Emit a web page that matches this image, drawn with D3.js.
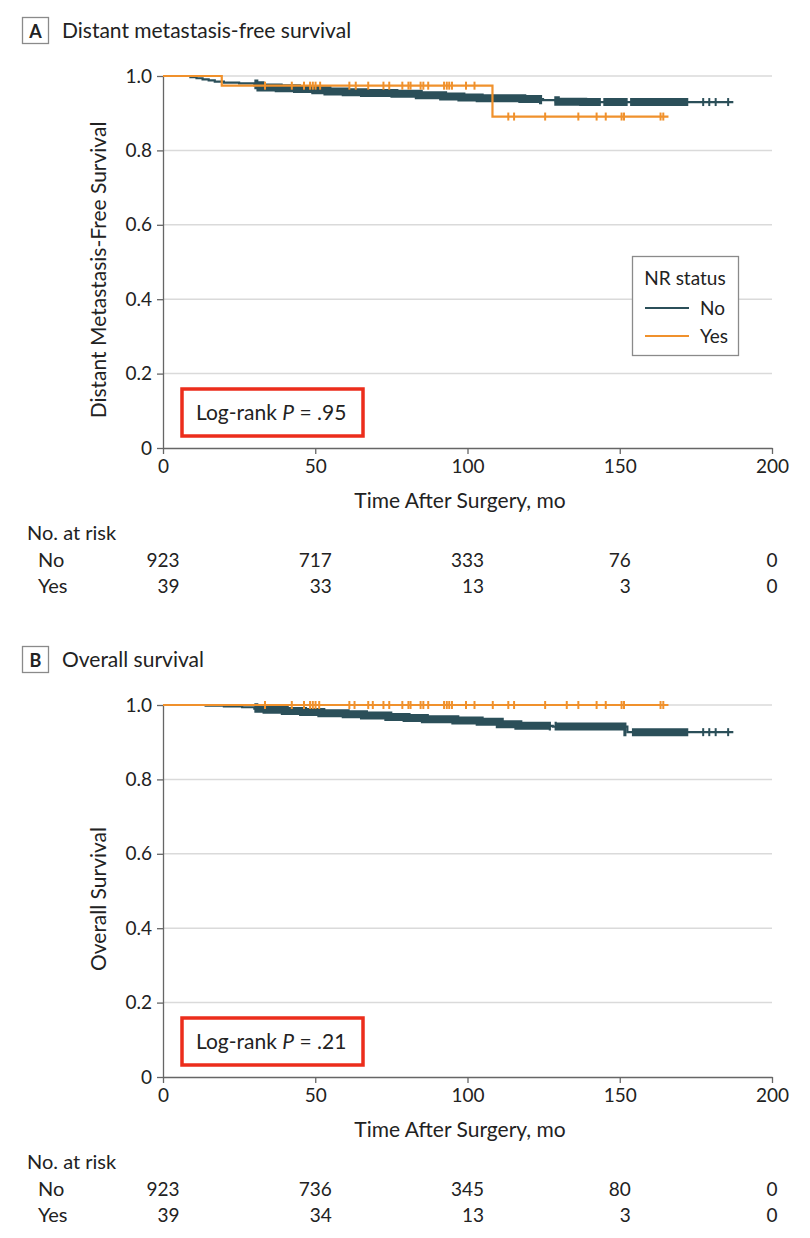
<!DOCTYPE html>
<html><head><meta charset="utf-8">
<script src="https://cdn.jsdelivr.net/npm/d3@7"></script>
<style>
body{margin:0;background:#fff}
svg{display:block}
text{font-family:Lato,"Open Sans",sans-serif;fill:#222}
</style>
</head><body>
<svg id="c" width="810" height="1238"></svg>
<script>
// ---------- data ----------
const timeTicks = [0, 50, 100, 150, 200];
const survTicks = [0, 0.2, 0.4, 0.6, 0.8, 1.0];
const groupNames = ["No", "Yes"];
const legendTitle = "NR status";

// Panel A: distant metastasis-free survival
const dmfsNoSteps = [[0,1],[9,0.997],[11,0.994],[13,0.991],[15,0.988],[17,0.985],[20,0.982],[25,0.980],[30,0.975],[32,0.969],[38,0.967],[44,0.965],[50,0.962],[54,0.958],[60,0.956],[66,0.954],[76,0.952],[84,0.948],[92,0.945],[98,0.942],[104,0.940],[118,0.938],[124.8,0.935],[129,0.931],[138,0.930]];
const dmfsNoEnd = 187.3;
const dmfsNoDense = [[30,124.5],[128.5,143.8],[144.6,152.6],[153.4,172.5]];
const dmfsNoCensor = [177.4, 179.4, 181.5, 185.6];
const dmfsYesSteps = [[0,1],[19.3,0.974],[108.2,0.891]];
const dmfsYesEnd = 166;
const dmfsYesCensor = [33.5,42.3,46.3,48.3,49.2,50.1,51.6,61.2,63.3,67.4,72.4,74.3,78.6,80.6,81.3,84.6,85.5,87.1,92.3,93.2,94.0,94.9,99.5,102.3,113.4,115.3,125.5,136.4,142.4,145.4,150.6,151.4,163.4,164.3];
const dmfsRiskNo = [923, 717, 333, 76, 0];
const dmfsRiskYes = [39, 33, 13, 3, 0];

// Panel B: overall survival
const osNoSteps = [[0,1],[14,0.998],[20,0.996],[26,0.994],[30,0.990],[34,0.987],[40,0.984],[46,0.981],[52,0.978],[60,0.975],[66,0.972],[74,0.968],[80,0.965],[86,0.962],[96,0.958],[104,0.955],[110.6,0.948],[116.7,0.944],[128,0.942],[152.5,0.927]];
const osNoEnd = 187.3;
const osNoDense = [[30,127.4],[128.6,152.2],[154,172.5]];
const osNoCensor = [177.4, 179.4, 181.5, 185.6];
const osYesSteps = [[0,1]];
const osYesEnd = 166;
const osYesCensor = [33.5,42.3,46.3,48.3,49.2,50.1,51.3,61.2,62.9,67.4,68.9,72.4,74.3,78.6,80.6,81.3,84.6,85.5,87.1,92.3,93.2,94.0,94.9,99.5,102.3,108.3,113.4,115.3,125.5,132.6,136.4,142.4,145.4,150.6,151.4,163.4,164.3];
const osRiskNo = [923, 736, 345, 80, 0];
const osRiskYes = [39, 34, 13, 3, 0];

// ---------- drawing ----------
const svg = d3.select("#c");
const colNo = "#2b4f59", colYes = "#f0912c";
const x = d3.scaleLinear().domain([0, 200]).range([163, 772]);

const panels = [
  {letter:"A", title:"Distant metastasis-free survival", yLabel:"Distant Metastasis-Free Survival", top:76, bottom:448, p:".95",
   no:{steps:dmfsNoSteps,end:dmfsNoEnd,dense:dmfsNoDense,censor:dmfsNoCensor},
   yes:{steps:dmfsYesSteps,end:dmfsYesEnd,censor:dmfsYesCensor},
   risk:[dmfsRiskNo, dmfsRiskYes], legend:true},
  {letter:"B", title:"Overall survival", yLabel:"Overall Survival", top:705, bottom:1077, p:".21",
   no:{steps:osNoSteps,end:osNoEnd,dense:osNoDense,censor:osNoCensor},
   yes:{steps:osYesSteps,end:osYesEnd,censor:osYesCensor},
   risk:[osRiskNo, osRiskYes], legend:false}
];

function survAt(steps, t){
  let s = steps[0][1];
  for (const [ti, si] of steps){ if (ti <= t) s = si; }
  return s;
}

panels.forEach((P, pi) => {
  const y = d3.scaleLinear().domain([0, 1]).range([P.bottom, P.top]);
  const g = svg.append("g");

  // panel header
  const hy = P.top - 58;
  g.append("rect").attr("x", 22.5).attr("y", hy - 0.5).attr("width", 26).attr("height", 26)
    .attr("fill", "#fff").attr("stroke", "#8a8a8a").attr("stroke-width", 1.3);
  g.append("text").attr("x", 35.5).attr("y", hy + 19.5).attr("text-anchor", "middle")
    .style("font-weight", "bold").style("font-size", "18px").text(P.letter);
  g.append("text").attr("x", 62).attr("y", hy + 20).style("font-size", "21px").text(P.title);

  // gridlines
  g.selectAll(".grid").data(survTicks.filter(d => d > 0)).enter().append("line")
    .attr("x1", x(0)).attr("x2", x(200)).attr("y1", d => y(d)).attr("y2", d => y(d))
    .attr("stroke", "#dadada").attr("stroke-width", 1.5);

  // axes
  const ax = g.append("g").attr("transform", `translate(0,${P.bottom})`)
    .call(d3.axisBottom(x).tickValues(timeTicks).tickSize(6).tickSizeOuter(0).tickPadding(6));
  const ay = g.append("g").attr("transform", `translate(${x(0)},0)`)
    .call(d3.axisLeft(y).tickValues(survTicks).tickSize(6).tickSizeOuter(0).tickPadding(5)
      .tickFormat(d => d === 0 ? "0" : d3.format(".1f")(d)));
  [ax, ay].forEach(a => {
    a.select(".domain").attr("stroke", "#666").attr("stroke-width", 1.3);
    a.selectAll(".tick line").attr("stroke", "#666").attr("stroke-width", 1.3);
    a.selectAll(".tick text").style("font-size", "19px").style("font-family", "Lato,'Open Sans',sans-serif").attr("fill", "#222");
  });

  // axis labels
  g.append("text").attr("x", 460).attr("y", P.bottom + 60).attr("text-anchor", "middle")
    .style("font-size", "21px").text("Time After Surgery, mo");
  g.append("text").attr("transform", `translate(106,${(P.top + P.bottom) / 2 + 8}) rotate(-90)`)
    .attr("text-anchor", "middle").style("font-size", "21px").text(P.yLabel);

  const line = d3.line().x(d => x(d[0])).y(d => y(d[1])).curve(d3.curveStepAfter);
  const pts = (c) => c.steps.concat([[c.end, c.steps[c.steps.length - 1][1]]]);

  // No curve
  const noPts = pts(P.no);
  g.append("path").attr("d", line(noPts)).attr("fill", "none").attr("stroke", colNo).attr("stroke-width", 2.2);
  // dense censoring bands
  P.no.dense.forEach((r, ri) => {
    const id = `clip${pi}_${ri}`;
    svg.append("clipPath").attr("id", id).append("rect")
      .attr("x", x(r[0])).attr("width", x(r[1]) - x(r[0])).attr("y", P.top - 20).attr("height", P.bottom - P.top + 40);
    g.append("path").attr("d", line(noPts)).attr("fill", "none").attr("stroke", colNo)
      .attr("stroke-width", 8).attr("clip-path", `url(#${id})`);
  });
  g.selectAll(".cn").data(P.no.censor).enter().append("line")
    .attr("x1", d => x(d)).attr("x2", d => x(d))
    .attr("y1", d => y(survAt(P.no.steps, d)) - 4).attr("y2", d => y(survAt(P.no.steps, d)) + 4)
    .attr("stroke", colNo).attr("stroke-width", 2);

  // Yes curve
  g.append("path").attr("d", line(pts(P.yes))).attr("fill", "none").attr("stroke", colYes).attr("stroke-width", 2.2);
  g.selectAll(".cy").data(P.yes.censor).enter().append("line")
    .attr("x1", d => x(d)).attr("x2", d => x(d))
    .attr("y1", d => y(survAt(P.yes.steps, d)) - 4).attr("y2", d => y(survAt(P.yes.steps, d)) + 4)
    .attr("stroke", colYes).attr("stroke-width", 2);

  // log-rank box
  const by = P.bottom - 59;
  g.append("rect").attr("x", 182).attr("y", by).attr("width", 181).attr("height", 47)
    .attr("fill", "#fff").attr("stroke", "#ec2d1b").attr("stroke-width", 3.5);
  const lt = g.append("text").attr("x", 196).attr("y", by + 31).style("font-size", "21px");
  lt.append("tspan").text("Log-rank ");
  lt.append("tspan").style("font-style", "italic").text("P");
  lt.append("tspan").text(" = " + P.p);

  // legend
  if (P.legend) {
    const lg = g.append("g");
    lg.append("rect").attr("x", 632.5).attr("y", 256.5).attr("width", 106).attr("height", 99)
      .attr("fill", "#fff").attr("stroke", "#8a8a8a").attr("stroke-width", 1.3);
    lg.append("text").attr("x", 685).attr("y", 285).attr("text-anchor", "middle").style("font-size", "19px").text(legendTitle);
    [colNo, colYes].forEach((c, i) => {
      const ly = 308 + i * 28;
      lg.append("line").attr("x1", 645).attr("x2", 689).attr("y1", ly).attr("y2", ly).attr("stroke", c).attr("stroke-width", 2);
      lg.append("text").attr("x", 700).attr("y", ly + 7).style("font-size", "19px").text(groupNames[i]);
    });
  }

  // number at risk
  const ry = P.bottom + 92;
  g.append("text").attr("x", 27).attr("y", ry).style("font-size", "20px").text("No. at risk");
  groupNames.forEach((name, i) => {
    g.append("text").attr("x", 38).attr("y", ry + 27 + i * 26).style("font-size", "20px").text(name);
  });
  timeTicks.forEach((t, ci) => {
    const texts = P.risk.map((row, i) => g.append("text").attr("y", ry + 27 + i * 26)
      .attr("text-anchor", "end").style("font-size", "19px").text(row[ci]));
    const maxW = d3.max(texts, tx => tx.node().getComputedTextLength());
    texts.forEach(tx => tx.attr("x", x(t) + maxW / 2));
  });
});
</script>
</body></html>
